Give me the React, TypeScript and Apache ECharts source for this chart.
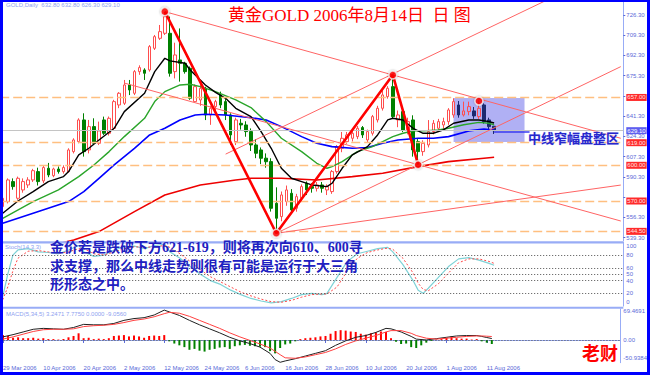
import React, { useEffect, useRef } from "react";
import * as echarts from "echarts";

// ---------- categories / ticks ----------
const N_CAT = 123; // 98 trading days (29 Mar 2006 .. 14 Aug 2006) + empty space on the right
const cats = Array.from({ length: N_CAT }, (_, i) => String(i));
const tickIdx = [0, 8, 16, 24, 32, 40, 48, 56, 64, 72, 80, 88, 96];
const tickLabels = ["29 Mar 2006", "10 Apr 2006", "20 Apr 2006", "2 May 2006", "12 May 2006", "24 May 2006", "6 Jun 2006", "16 Jun 2006", "28 Jun 2006", "10 Jul 2006", "20 Jul 2006", "1 Aug 2006", "11 Aug 2006"];
// 573.30 and 658.30 sit under the red level tags in the reference, so only their ticks show
const priceTicks = [539.3, 556.3, 573.3, 590.3, 607.3, 624.3, 641.3, 658.3, 675.3, 692.3, 709.3, 726.3];
const priceLabels = [539.3, 556.3, 590.3, 607.3, 624.3, 641.3, 675.3, 692.3, 709.3, 726.3];

// ---------- daily candles [open, close, low, high] ----------
const candles = [
  [565.3, 572.3, 562.5, 573.7], [569.5, 587.7, 568, 589], [586.3, 582.1, 579.5, 589], [572.3, 589.1, 571, 590.5],
  [579.3, 586.3, 577, 589], [583.5, 587.7, 581, 590], [587.7, 595.5, 586, 597], [594.7, 586.3, 583, 598],
  [586.9, 598.1, 585, 599.5], [597.5, 591.9, 590, 602], [591.3, 596.9, 590, 598], [596.9, 594.7, 593, 599],
  [594.7, 598.1, 593, 600], [594.7, 612.9, 593.9, 614.3], [611.5, 621.3, 610, 622.7], [619.9, 638.1, 618.5, 639.5],
  [638.1, 611.5, 607.3, 643.7], [612.9, 632.5, 610, 638.1], [632.5, 618.5, 617, 639.5], [618.5, 628.9, 617, 636.7],
  [638.1, 626.9, 625.5, 640.9], [626.9, 639.5, 625, 641], [631.1, 653.5, 629.7, 655], [650.7, 660.5, 648, 661.5],
  [652.1, 667.5, 650.7, 671.7], [667.5, 663.3, 659, 671.7], [660.5, 678.7, 659, 680], [678.7, 682.1, 676, 684],
  [680.1, 677.3, 671.7, 681.5], [680.1, 699.7, 678.7, 701], [698.3, 708.1, 696.9, 709.5], [706.7, 712.3, 705.3, 717.9],
  [710.9, 724.9, 709.5, 728], [710.9, 677.3, 674.5, 725], [678.7, 692.7, 673, 703], [688.5, 685.7, 670.3, 715],
  [685.7, 678.7, 677, 687], [681.5, 656.3, 655, 683], [653.5, 666.1, 653.5, 668], [654.9, 664.7, 650, 668],
  [664.7, 642.3, 638, 666], [642.3, 647.9, 634, 650], [649.3, 653.5, 642, 655], [659.1, 650.7, 648, 661.9],
  [653.5, 642.3, 638, 656], [642.3, 625.5, 617.1, 643.7], [619.9, 638.1, 617, 640], [635.3, 633.9, 630, 639],
  [633.9, 628.3, 624, 637], [628.3, 617.1, 612, 631], [617.1, 610.1, 606, 622], [612.9, 605.9, 601, 615],
  [606, 603, 598, 610], [603.1, 563.9, 561.1, 605.9], [568.1, 555.5, 543, 581.5], [556.9, 575.1, 553, 578],
  [569.5, 579.3, 566, 583], [576.5, 562.5, 560, 580], [563.9, 573.7, 561, 576], [572.3, 582.1, 570, 584],
  [584.9, 579.3, 575, 586.5], [582.1, 580.7, 577, 585], [580.7, 583.5, 578, 586], [583.5, 580.7, 577, 586],
  [579.3, 582.1, 575, 584], [577.9, 594.7, 576, 596], [594.7, 615.7, 593, 617], [614.3, 622.7, 611, 628],
  [619.9, 625.5, 618, 628], [622.7, 626.9, 620, 629], [624.1, 631.1, 622, 633], [631.7, 625.5, 623, 633],
  [621.3, 628.3, 619, 630], [626.9, 640.9, 625, 642.3], [638.1, 647.9, 636, 650], [647.9, 659.1, 646, 663],
  [657.7, 664.7, 656, 666.5], [666.1, 640.9, 639.5, 675.5], [638.1, 642.3, 632, 646], [645.1, 629.7, 628, 647],
  [629.7, 636.7, 626, 640], [638.1, 612.9, 607.3, 642], [619.9, 611.5, 605, 622], [611.5, 618.5, 608, 621],
  [617.1, 628.3, 615, 638], [628.3, 635.3, 626, 638], [631.1, 636.7, 629, 639], [633.9, 636.7, 630, 640],
  [636.7, 646.5, 634, 648], [642.3, 653.5, 640, 656.3], [650.7, 642.3, 640, 654], [642.3, 645.7, 641, 653.5],
  [645.1, 649.3, 642, 653.5], [645.7, 641.5, 639, 649], [640.9, 647.9, 639, 654.6], [650.7, 636.7, 635, 652],
  [638.1, 632.5, 629, 640], [632.8, 629.1, 626.3, 632.8],
];

// ---------- moving averages as [dayIndex, price] ----------
const maBlack = [[0, 559.7], [3, 570], [6, 577.9], [9, 586.3], [12, 590.5], [13, 594.7], [15, 608.7], [17, 614.3], [19, 621.3], [22, 631.1], [24, 645.1], [28, 660.5], [30, 678.7], [32, 689.9], [33, 687.7], [36, 685.7], [37, 680.1], [40, 667.5], [42, 661.3], [44, 656.3], [46, 647.9], [49, 640.9], [51, 628.3], [53, 614.3], [55, 597.5], [57, 589.1], [59, 586.3], [61, 583.5], [64, 582.1], [65, 584.9], [67, 597.5], [69, 608.7], [72, 615.7], [74, 625.5], [76, 638.1], [77, 639.5], [79, 638.1], [81, 631.1], [83, 626.9], [85, 626.9], [87, 629.7], [89, 635.3], [92, 638.1], [94, 638.1], [96, 636.7], [97, 635.5]];
const maGreen = [[0, 555.5], [6, 569.5], [11, 579.3], [15, 590.5], [18, 600.3], [21, 611.5], [24, 624.1], [28, 639.5], [30, 653.5], [32, 661.9], [35, 667.5], [37, 668.1], [39, 666.1], [42, 661.9], [46, 654.9], [49, 648.5], [52, 636.7], [55, 622.7], [59, 611.5], [62, 601.7], [64, 597.5], [65, 598.9], [67, 603.1], [70, 611.5], [73, 615.7], [75, 619.9], [77, 624.1], [79, 626.9], [81, 628.9], [83, 628.9], [86, 629.7], [88, 631.1], [91, 634.1], [94, 636.1], [96, 635.3], [97, 634]];
const maBlue = [[0, 551.3], [6, 559.7], [13, 569.5], [16, 577.9], [19, 589.1], [22, 600.3], [26, 614.3], [29, 625.5], [32, 631.1], [35, 638.1], [38, 642.3], [40, 642.9], [44, 642.3], [49, 640], [52, 638.1], [55, 632.5], [59, 624.1], [62, 618.5], [65, 615.7], [69, 614.3], [72, 614.9], [75, 618.5], [78, 621.3], [82, 622.7], [85, 622.7], [88, 624.1], [92, 628.9], [95, 630.5], [97, 629.7]];
const maRed = [[0, 520], [5, 527], [10, 533], [14, 537.3], [19, 544.3], [26, 561.1], [32, 575.1], [39, 583.5], [46, 587.7], [49, 589.1], [55, 589.1], [62, 587.7], [69, 590.5], [75, 593.3], [82, 598.9], [88, 603.1], [95, 605.9], [97, 606.7]];

// ---------- drawn objects ----------
const levels = [657, 619, 600, 570, 544.5];
const levelTexts = ["657.00", "619.00", "600.00", "570.00", "544.50"];
const lastPrice = 629.1;
const pivots = [[32, 729.1], [54, 542.9], [77, 675.9], [82, 600.5]];
const dots = [[32, 729.1], [54, 542.9], [77, 675.9], [82, 600.5], [94, 654]];
const trendLines = [
  [[32, 729.1], [122, 622.7]],
  [[44, 609.4], [122, 768.6]],
  [[54, 542.9], [122, 682.9]],
  [[24, 669.1], [122, 553.2]],
  [[54, 542.9], [122, 583.4]],
];
const boxArea = { from: [89, 656.5], to: [103, 619.6] };
const pointer = [[97, 628], [104, 628]];

// ---------- stochastic ----------
const stochMain = [[0, 15], [1, 50], [2, 80], [3, 88], [5, 90], [7, 85], [9, 84], [11, 82], [13, 88], [15, 95], [16, 85], [18, 78], [20, 80], [22, 88], [24, 93], [26, 94], [28, 90], [30, 95], [32, 97], [33, 85], [35, 75], [37, 62], [39, 50], [41, 40], [43, 34], [45, 25], [47, 18], [49, 12], [51, 8], [53, 5], [55, 7], [57, 12], [59, 18], [61, 20], [63, 18], [64, 20], [66, 45], [68, 70], [70, 82], [72, 86], [74, 90], [76, 92], [77, 85], [79, 65], [81, 40], [82, 25], [83, 20], [84, 28], [86, 45], [88, 62], [90, 74], [92, 76], [94, 72], [96, 67], [97, 64]];
const stochSignal = [[0, 10], [1, 30], [2, 55], [3, 75], [5, 86], [7, 87], [9, 85], [11, 83], [13, 85], [15, 90], [16, 90], [18, 82], [20, 80], [22, 85], [24, 90], [26, 93], [28, 92], [30, 93], [32, 95], [33, 92], [35, 82], [37, 70], [39, 57], [41, 46], [43, 38], [45, 30], [47, 22], [49, 16], [51, 11], [53, 7], [55, 6], [57, 9], [59, 14], [61, 18], [63, 19], [64, 19], [66, 30], [68, 55], [70, 75], [72, 84], [74, 88], [76, 91], [77, 89], [79, 75], [81, 52], [82, 36], [83, 26], [84, 24], [86, 35], [88, 52], [90, 68], [92, 74], [94, 74], [96, 70], [97, 67]];
const stochLevels = [80, 60, 50, 40, 20];
const stochTicks = [94.7, 80, 60, 50, 40, 20, 6];

// ---------- MACD ----------
const macdLine = [[0, 7], [2, 12], [4, 18], [6, 24], [8, 26], [10, 25], [12, 24], [14, 28], [16, 35], [18, 34], [20, 34], [22, 37], [24, 44], [26, 48], [28, 50], [30, 56], [32, 67], [33, 63], [35, 55], [37, 44], [39, 34], [41, 25], [43, 16], [45, 6], [47, -2], [49, -8], [51, -16], [53, -30], [54, -44], [55, -50], [56, -47], [58, -42], [60, -36], [62, -30], [64, -24], [66, -12], [68, -2], [70, 6], [72, 10], [74, 17], [76, 26], [77, 25], [79, 18], [81, 8], [82, 2], [84, 0], [86, 3], [88, 6], [90, 9], [92, 10], [94, 10], [95, 8], [96, 5.5], [97, 3.2471]];
const macdSignal = [[0, 2], [2, 7], [4, 13], [6, 19], [8, 23], [10, 24], [12, 24], [14, 25], [16, 30], [18, 32], [20, 33], [22, 35], [24, 39], [26, 44], [28, 47], [30, 52], [32, 59], [33, 62], [35, 60], [37, 53], [39, 44], [41, 35], [43, 26], [45, 16], [47, 7], [49, -1], [51, -9], [53, -18], [55, -33], [56, -40], [58, -41], [60, -38], [62, -33], [64, -28], [66, -20], [68, -10], [70, -2], [72, 4], [74, 10], [76, 18], [77, 21], [79, 21], [81, 15], [82, 10], [84, 4], [86, 2], [88, 4], [90, 6], [92, 8], [94, 9], [95, 9], [96, 8.5], [97, 7.775]];
const macdHist = [11, 9, 5, 6, 4, 4, 5, 3, 4, 2, 2, 1, 2, 6, 9, 15, 4, 5, 2, 3, 2, 4, 9, 10, 11, 8, 10, 8, 5, 9, 10, 9, 11, -3, -8, -12, -16, -22, -20, -24, -26, -22, -20, -17, -16, -20, -14, -12, -11, -13, -14, -15, -16, -25, -30, -18, -10, -8, -3, 2, 4, 5, 6, 8, 9, 14, 20, 22, 21, 19, 18, 14, 12, 15, 17, 19, 18, 4, -4, -9, -8, -16, -18, -12, -6, -2, 1, 2, 5, 8, 4, 3, 3, 1, 2, -3, -6, -9.056];
const macdTicks = [65, 0, -41];

// ---------- styles ----------
const AXIS_TXT = "#5a6ad8";
const LIGHT_BLUE = "#98acf6";
const HEAD_TXT = "#8ea2f0";
const GRID_W = 623.1;
const SMALL_FONT = "Liberation Sans";

function buildOption(): any {
  const xAxes = [0, 1, 2].map((i) => ({
    type: "category",
    gridIndex: i,
    data: cats,
    boundaryGap: true,
    axisLine: { show: i === 2, lineStyle: { color: LIGHT_BLUE, width: 1 } },
    axisTick: {
      show: i === 2,
      interval: (idx: number) => tickIdx.includes(idx),
      alignWithLabel: true,
      length: 3,
      lineStyle: { color: AXIS_TXT },
    },
    axisLabel: {
      show: i === 2,
      interval: (idx: number) => tickIdx.includes(idx),
      formatter: (_v: string, idx: number) => {
        const k = tickIdx.indexOf(idx);
        return k >= 0 ? tickLabels[k] : "";
      },
      align: "left",
      margin: 2,
      fontSize: 6,
      color: AXIS_TXT,
      fontFamily: SMALL_FONT,
    },
    splitLine: { show: false },
  }));

  const yCommon = {
    type: "value",
    position: "right",
    splitLine: { show: false },
    axisLine: { show: true, lineStyle: { color: LIGHT_BLUE, width: 1 } },
  };

  const candleData = candles.map((c, i) => {
    const down = c[1] < c[0];
    if (i >= 89 && down) {
      return { value: c, itemStyle: { color: "#1c2a70", borderColor: "#1c2a70", color0: "#1c2a70", borderColor0: "#1c2a70" } };
    }
    return c;
  });

  const levelMarks: any[] = levels.map((v, i) => ({
    yAxis: v,
    lineStyle: { color: "#ffbf80", type: [9, 4], width: 1.3 },
    label: {
      show: true, position: "end", formatter: levelTexts[i], distance: 3,
      backgroundColor: "#ff2a2a", color: "#ffe4e4", fontSize: 6, fontFamily: SMALL_FONT, padding: [1, 1, 0, 1],
    },
  }));
  levelMarks.push({
    yAxis: lastPrice,
    lineStyle: { color: "#c4c4c4", type: "solid", width: 1 },
    label: {
      show: true, position: "end", formatter: lastPrice.toFixed(2), distance: 3,
      backgroundColor: "#5e5ef0", color: "#ffffff", fontSize: 6, fontFamily: SMALL_FONT, padding: [1, 1, 0, 1],
    },
  });

  const lineSeries = (data: any, color: string, width: number, xi: number, extra: any = {}) => ({
    type: "line", xAxisIndex: xi, yAxisIndex: xi, data, showSymbol: false, symbol: "none",
    lineStyle: { color, width, ...(extra.lineStyle || {}) }, clip: true, silent: true, z: extra.z ?? 4,
  });

  const series: any[] = [
    // consolidation box
    {
      type: "line", xAxisIndex: 0, yAxisIndex: 0, data: [], z: 1, silent: true,
      markArea: {
        silent: true,
        itemStyle: { color: "rgba(150,150,240,0.75)" },
        data: [[{ xAxis: boxArea.from[0], yAxis: boxArea.from[1] }, { xAxis: boxArea.to[0], yAxis: boxArea.to[1] }]],
      },
    },
    {
      type: "candlestick", xAxisIndex: 0, yAxisIndex: 0, data: candleData, barWidth: 3, z: 2,
      itemStyle: { color: "transparent", color0: "#008000", borderColor: "#ff4d4d", borderColor0: "#008000", borderWidth: 1 },
      markLine: { symbol: ["none", "none"], silent: true, data: levelMarks },
    },
    lineSeries(maRed, "#ee0000", 1.6, 0),
    lineSeries(maBlue, "#0000ff", 1.6, 0),
    lineSeries(maGreen, "#2aa52a", 1.4, 0),
    lineSeries(maBlack, "#000000", 1.4, 0),
    ...trendLines.map((l) => lineSeries(l, "#ff6464", 1, 0, { z: 5 })),
    lineSeries(pivots, "#ff0000", 2.6, 0, { z: 6 }),
    lineSeries(pointer, "#3a3af0", 1.6, 0, { z: 6 }),
    {
      type: "scatter", xAxisIndex: 0, yAxisIndex: 0, data: dots, symbolSize: 8, z: 7, silent: true,
      itemStyle: { color: "#ff0000", borderColor: "#f4f4f4", borderWidth: 1.5, shadowColor: "rgba(0,0,0,0.35)", shadowBlur: 2 },
    },
    // stochastic
    {
      ...lineSeries(stochMain, "#7fd2d6", 1.2, 1),
      markLine: {
        symbol: ["none", "none"], silent: true, label: { show: false },
        lineStyle: { color: "#505050", type: [1, 2], width: 1 },
        data: stochLevels.map((v) => ({ yAxis: v })),
      },
    },
    lineSeries(stochSignal, "#ff4a4a", 1, 1, { lineStyle: { type: [2, 2] } }),
    // MACD
    {
      type: "bar", xAxisIndex: 2, yAxisIndex: 2, data: macdHist, barWidth: 2, silent: true,
      itemStyle: { color: (p: any) => (p.value >= 0 ? "#ff0000" : "#008000") },
      markLine: {
        symbol: ["none", "none"], silent: true, label: { show: false },
        lineStyle: { color: "#505050", type: [1, 2], width: 1 },
        data: [{ yAxis: 0 }],
      },
    },
    lineSeries(macdLine, "#202020", 1, 2),
    lineSeries(macdSignal, "#ff4040", 1, 2),
  ];

  const yLabel = { fontSize: 6, color: AXIS_TXT, margin: 3, fontFamily: SMALL_FONT };

  return {
    animation: false,
    backgroundColor: "#ffffff",
    grid: [
      { left: 0.2, top: 2, width: GRID_W, height: 239 },
      { left: 0.2, top: 242.3, width: GRID_W, height: 63.8 },
      { left: 0.2, top: 309, width: GRID_W, height: 53.7 },
    ],
    xAxis: xAxes,
    yAxis: [
      {
        ...yCommon, gridIndex: 0, min: 536.4, max: 737.2,
        axisTick: { show: true, length: 2, customValues: priceTicks, lineStyle: { color: AXIS_TXT } },
        axisLabel: { ...yLabel, customValues: priceLabels, formatter: (v: number) => v.toFixed(2) },
      },
      {
        ...yCommon, gridIndex: 1, min: 0, max: 100,
        axisTick: { show: false },
        axisLabel: {
          ...yLabel, customValues: stochTicks,
          formatter: (v: number) => (v > 90 ? "100" : v < 10 ? "0" : String(v)),
        },
      },
      {
        ...yCommon, gridIndex: 2, min: -50.9384, max: 69.4691,
        axisTick: { show: false },
        axisLabel: {
          ...yLabel, customValues: macdTicks,
          formatter: (v: number) => (v > 30 ? "69.4691" : v < -30 ? "-50.9384" : "0.00"),
        },
      },
    ],
    series,
    graphic: [
      { type: "rect", z: 50, shape: { x: 0, y: 241.3, width: 623.3, height: 2.2 }, style: { fill: LIGHT_BLUE } },
      { type: "rect", z: 50, shape: { x: 0, y: 306.7, width: 623.3, height: 2 }, style: { fill: LIGHT_BLUE } },
      {
        type: "text", z: 60, x: 6, y: 5,
        style: { text: "GOLD,Daily  632.80 632.80 626.30 629.10", fill: HEAD_TXT, font: `6px '${SMALL_FONT}'`, verticalAlign: "middle" },
      },
      {
        type: "text", z: 60, x: 5, y: 246.5,
        style: { text: "Stoch(14,3,3)", fill: HEAD_TXT, font: `6px '${SMALL_FONT}'`, verticalAlign: "middle" },
      },
      {
        type: "text", z: 60, x: 6, y: 314.3,
        style: { text: "MACD(5,34,5) 3.2471 7.7750 0.0000 -9.0560", fill: HEAD_TXT, font: `6px '${SMALL_FONT}'`, verticalAlign: "middle" },
      },
      {
        type: "text", z: 60, x: 228, y: 15.5,
        style: { text: "黄金GOLD 2006年8月14日  日 图", fill: "#ff0000", font: "17px 'Liberation Serif', 'Noto Sans CJK SC'", verticalAlign: "middle" },
      },
      {
        type: "text", z: 60, x: 528, y: 137.5,
        style: { text: "中线窄幅盘整区", fill: "#2626cc", font: "bold 13px 'Noto Sans CJK SC'", verticalAlign: "middle", stroke: "#c8d0ff", lineWidth: 0.5 },
      },
      {
        type: "text", z: 60, x: 50, y: 247,
        style: { text: "金价若是跌破下方621-619，则将再次向610、600寻", fill: "#2020c0", font: "bold 14px 'Liberation Serif', 'Noto Sans CJK SC'", verticalAlign: "middle" },
      },
      {
        type: "text", z: 60, x: 50, y: 266,
        style: { text: "求支撑，那么中线走势则很有可能是运行于大三角", fill: "#2020c0", font: "bold 14px 'Liberation Serif', 'Noto Sans CJK SC'", verticalAlign: "middle" },
      },
      {
        type: "text", z: 60, x: 50, y: 284,
        style: { text: "形形态之中。", fill: "#2020c0", font: "bold 14px 'Liberation Serif', 'Noto Sans CJK SC'", verticalAlign: "middle" },
      },
      {
        type: "text", z: 60, x: 582, y: 352,
        style: { text: "老财", fill: "#ff0000", font: "bold 18px 'Noto Sans CJK SC'", verticalAlign: "middle" },
      },
    ],
  };
}

export default function App() {
  const ref = useRef<HTMLDivElement>(null);
  useEffect(() => {
    if (!ref.current) return;
    const chart = echarts.init(ref.current, null, { renderer: "svg" });
    chart.setOption(buildOption());
    return () => chart.dispose();
  }, []);
  return (
    <div style={{ position: "fixed", left: 0, top: 0, width: 650, height: 375, background: "#ffffff" }}>
      <div ref={ref} style={{ width: 650, height: 375 }} />
      <div
        style={{
          position: "absolute", left: 0, top: 0, width: 650, height: 375, boxSizing: "border-box",
          borderStyle: "solid", borderColor: "#0000ff", borderWidth: "2px 3px 3px 3px", pointerEvents: "none",
        }}
      />
    </div>
  );
}
